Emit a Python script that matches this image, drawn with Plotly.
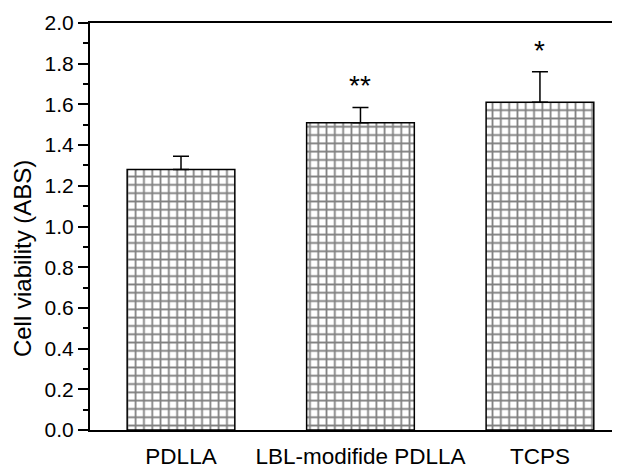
import plotly.graph_objects as go

categories = ["PDLLA", "LBL-modifide PDLLA", "TCPS"]
values = [1.28, 1.51, 1.61]
errors = [0.065, 0.075, 0.15]
stars = ["", "**", "*"]
star_y = [0, 1.695, 1.867]
yticks = [0, 0.2, 0.4, 0.6, 0.8, 1.0, 1.2, 1.4, 1.6, 1.8, 2.0]
ytick_text = ["0.0", "0.2", "0.4", "0.6", "0.8", "1.0", "1.2", "1.4", "1.6", "1.8", "2.0"]

fig = go.Figure()
fig.add_trace(go.Bar(
    x=list(range(len(categories))), y=values, width=0.6,
    marker=dict(color="white", line=dict(color="black", width=1.5),
                pattern=dict(shape="+", size=8.3, solidity=0.38, fgcolor="black", bgcolor="white")),
    error_y=dict(type="data", array=errors, arrayminus=[0]*3, symmetric=False,
                 color="black", thickness=1.5, width=8),
))

for i, s in enumerate(stars):
    if s:
        fig.add_annotation(x=i, y=star_y[i], text=s, showarrow=False,
                           font=dict(size=28, color="black", family="Liberation Sans"))

fig.add_annotation(xref="paper", yref="paper", x=(22 - 90) / 530, y=0.42,
                   text="Cell viability (ABS)", textangle=-90, showarrow=False,
                   xanchor="center", yanchor="middle",
                   font=dict(size=24, color="black", family="Liberation Sans"))

# page body has an 8px margin: figure is drawn at (8,8)
fig.update_layout(
    width=612, height=464,
    margin=dict(l=82, r=0, t=15, b=42),
    paper_bgcolor="white", plot_bgcolor="white",
    showlegend=False,
    font=dict(family="Liberation Sans, Arial", size=22, color="black"),
    xaxis=dict(range=[-0.507, 2.446], tickmode="array", tickvals=[0, 1, 2], ticktext=categories,
               showline=True, linecolor="black", linewidth=2, mirror=True, ticks="",
               showgrid=False, zeroline=False, tickfont=dict(size=22.5), automargin=False,
               ticklabelstandoff=5),
    yaxis=dict(range=[0, 2.0], tickmode="array", tickvals=yticks, ticktext=ytick_text,
               showline=True, linecolor="black", linewidth=2, ticks="outside", ticklen=10, tickwidth=2,
               minor=dict(dtick=0.1, ticks="outside", ticklen=5, tickwidth=2, tickcolor="black"),
               tickcolor="black", showgrid=False, zeroline=False, tickfont=dict(size=21), automargin=False),
)
fig.write_html("out.html")
